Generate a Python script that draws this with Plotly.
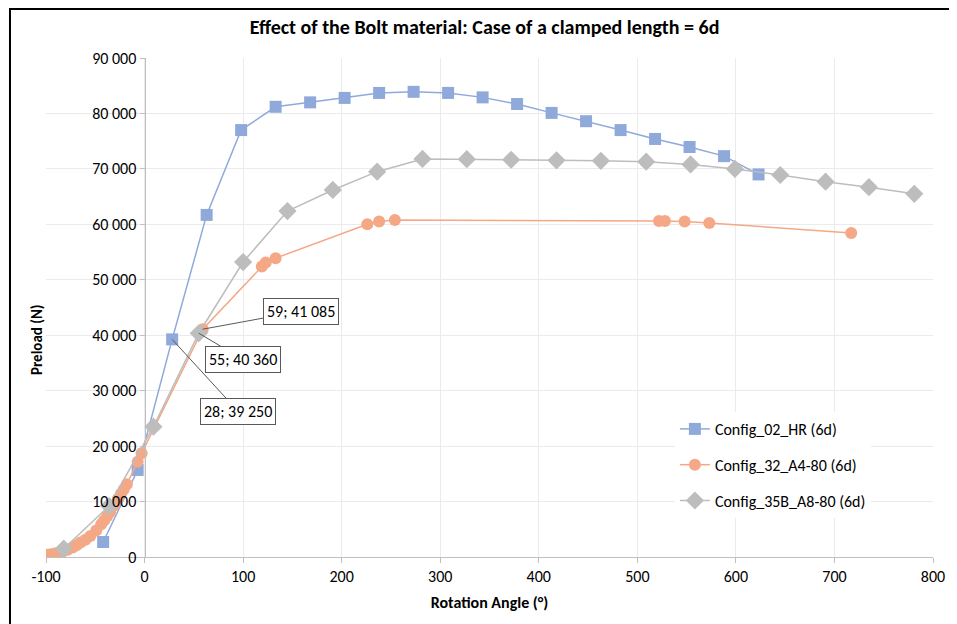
import plotly.graph_objects as go

# ---- data ----
hr_x = [-42, -7, 28, 63, 98, 133, 168, 203, 238, 273, 308, 343, 378, 413, 448, 483, 518, 553, 588, 623]
hr_y = [2700, 15700, 39250, 61700, 77000, 81200, 82000, 82800, 83700, 83900, 83700, 82900, 81700, 80100,
        78600, 77000, 75400, 73950, 72300, 69000]

a4_x = [-98, -95, -91, -87, -83, -78, -73, -69, -65, -60, -55, -49, -44, -41, -38, -35, -31, -27, -24, -21,
        -18, -7, -3, 59, 119, 123, 133, 226, 238, 254, 522, 528, 548, 573, 717]
a4_y = [400, 500, 650, 800, 1000, 1300, 1700, 2100, 2600, 3100, 3800, 4800, 5900, 6600, 7300, 8100, 9300,
        10500, 11400, 12200, 13100, 17200, 18700, 41085, 52400, 53100, 53900, 60000, 60500, 60800,
        60600, 60600, 60500, 60250, 58450]

a8_x = [-82, -36, 9, 55, 100, 145, 191, 236, 282, 327, 372, 418, 463, 509, 554, 599, 645, 691, 735, 781]
a8_y = [1500, 9200, 23500, 40360, 53200, 62400, 66200, 69500, 71800, 71750, 71650, 71550, 71450, 71300,
        70800, 70000, 68900, 67700, 66700, 65500]

series_names = ["Config_02_HR (6d)", "Config_32_A4-80 (6d)", "Config_35B_A8-80 (6d)"]

x_ticks = [-100, 0, 100, 200, 300, 400, 500, 600, 700, 800]
x_ticktext = ["-100", "0", "100", "200", "300", "400", "500", "600", "700", "800"]

callouts = [(59, 41085, "59; 41 085"), (55, 40360, "55; 40 360"), (28, 39250, "28; 39 250")]
callout_offsets = [(98, -18), (44, 26), (66, 72)]

FONT = "Carlito, Liberation Sans Narrow, Liberation Sans, Arial, sans-serif"
BLUE = "#8FA9DB"
ORANGE = "#F4A886"
GRAY = "#BDBDBD"
FS = 16

fig = go.Figure()
fig.add_trace(go.Scatter(x=hr_x, y=hr_y, mode="lines+markers", name=series_names[0], legendgroup="a",
                         line=dict(color=BLUE, width=1.5),
                         marker=dict(symbol="square", size=12, color=BLUE)))
fig.add_trace(go.Scatter(x=a4_x, y=a4_y, mode="lines+markers", name=series_names[1], legendgroup="b",
                         line=dict(color=ORANGE, width=1.5),
                         marker=dict(symbol="circle", size=12, color=ORANGE)))
fig.add_trace(go.Scatter(x=a8_x, y=a8_y, mode="lines+markers", name=series_names[2], legendgroup="c",
                         line=dict(color=GRAY, width=1.5),
                         marker=dict(symbol="diamond", size=14, color=GRAY)))

annotations = []
for (cx, cy, txt), (ax, ay) in zip(callouts, callout_offsets):
    annotations.append(dict(x=cx, y=cy, xref="x", yref="y", text=txt, showarrow=True,
                            ax=ax, ay=ay, arrowhead=0, arrowwidth=1, arrowcolor="#595959",
                            bgcolor="white", bordercolor="#595959", borderwidth=1, borderpad=3,
                            font=dict(family=FONT, size=FS, color="#000000")))
annotations.append(dict(text="<b>Preload (N)</b>", xref="paper", yref="paper", x=-0.010, y=0.435,
                        xanchor="center", yanchor="middle", textangle=-90, showarrow=False,
                        font=dict(family=FONT, size=15, color="#000000")))

fig.update_layout(
    width=957, height=624,
    margin=dict(l=38, r=32, t=50, b=75),
    paper_bgcolor="white", plot_bgcolor="white",
    separators=". ",
    font=dict(family=FONT, size=FS, color="#000000"),
    title=dict(text="<b>Effect of the Bolt material: Case of a clamped length = 6d</b>",
               x=0.498, xanchor="center", y=0.9696, yanchor="middle",
               font=dict(family=FONT, size=20, color="#000000")),
    xaxis=dict(range=[-100, 800], tickvals=x_ticks, ticktext=x_ticktext, showgrid=True,
               gridcolor="#EBEBEB", gridwidth=1, zeroline=False, showline=True, linecolor="#BFBFBF",
               ticks="outside", ticklen=5, tickcolor="#BFBFBF",
               title=dict(text="<b>Rotation Angle (°)</b>", standoff=11,
                          font=dict(family=FONT, size=FS, color="#000000"))),
    yaxis=dict(range=[0, 90000], dtick=10000, tickformat=",d", showgrid=True, gridcolor="#EBEBEB",
               gridwidth=1, zeroline=False, showline=True, linecolor="#BFBFBF", anchor="free",
               position=100 / 900, ticks="outside", ticklen=5, tickcolor="#BFBFBF"),
    legend=dict(x=0.709, y=0.2906, xanchor="left", yanchor="top", bgcolor="white",
                tracegroupgap=12, font=dict(family=FONT, size=FS, color="#000000")),
    annotations=annotations,
    shapes=[dict(type="rect", xref="paper", yref="paper", x0=-0.0406, x1=1.0248, y0=-0.16, y1=1.098,
                 line=dict(color="#000000", width=2), layer="above")],
)

fig.write_html("out.html")
